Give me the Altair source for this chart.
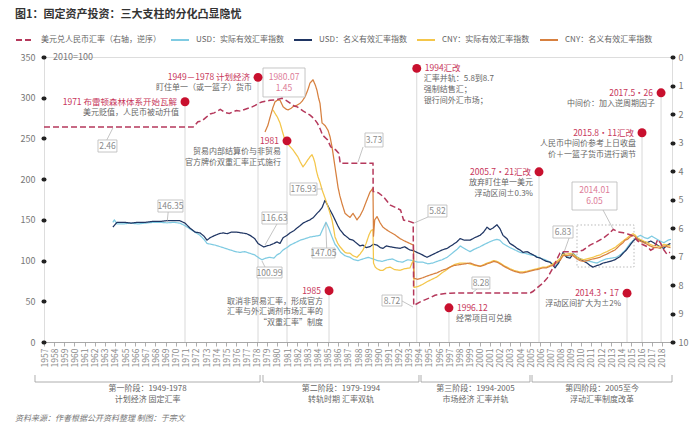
import altair as alt
import pandas as pd

FONT = "Noto Sans CJK SC"
DOT_RED = "#c8102e"
RED_TEXT = "#c7365a"
PINK_TEXT = "#dd7c98"
GRAY_TEXT = "#666666"
BOX_TEXT = "#8a8a8a"

# ---------------- series names (legend order) ----------------
RATE = "美元兑人民币汇率（右轴，逆序）"
USD_REAL = "USD：实际有效汇率指数"
USD_NOM = "USD：名义有效汇率指数"
CNY_REAL = "CNY：实际有效汇率指数"
CNY_NOM = "CNY：名义有效汇率指数"
SERIES = [RATE, USD_REAL, USD_NOM, CNY_REAL, CNY_NOM]
COLORS = ["#b5395c", "#7fcbe2", "#1f3563", "#f4c64a", "#d7803f"]
DASHES = [[6, 3], [1, 0], [1, 0], [1, 0], [1, 0]]

# ---------------- USD real effective exchange rate index (2010=100) ----------------
usd_real_year = [1963.8, 1963.95, 1964.2, 1964.8, 1965.5, 1966.3, 1967.0, 1967.8, 1968.5, 1969.15,
                 1969.8, 1970.4, 1970.9, 1971.4, 1971.9, 1972.4, 1972.8, 1973.1, 1973.5, 1973.9,
                 1974.4, 1974.9, 1975.4, 1975.9, 1976.35, 1976.8, 1977.3, 1977.8, 1978.13, 1978.52,
                 1978.9, 1979.3, 1979.7, 1980.0, 1980.3, 1980.6, 1981.0, 1981.3, 1981.8, 1982.3,
                 1982.8, 1983.3, 1983.8, 1984.25, 1984.5, 1984.84, 1985.1, 1985.4, 1985.73, 1985.93,
                 1986.3, 1986.7, 1987.21, 1987.6, 1988.0, 1988.5, 1989.0, 1989.5, 1989.9, 1990.4,
                 1990.9, 1991.4, 1991.9, 1992.4, 1992.9, 1993.4, 1993.9, 1994.4, 1994.9, 1995.4,
                 1995.8, 1996.3, 1996.8, 1997.3, 1997.8, 1998.1, 1998.6, 1999.06, 1999.5, 2000.05,
                 2000.5, 2001.0, 2001.4, 2001.72, 2002.0, 2002.31, 2002.7, 2003.0, 2003.5, 2004.0,
                 2004.5, 2005.0, 2005.5, 2006.0, 2006.5, 2007.0, 2007.45, 2007.8, 2008.24, 2008.6,
                 2008.93, 2009.23, 2009.6, 2009.92, 2010.3, 2010.61, 2011.2, 2011.6, 2011.9, 2012.5,
                 2013.0, 2013.5, 2014.0, 2014.4, 2014.86, 2015.2, 2015.55, 2015.9, 2016.3, 2016.6,
                 2017.0, 2017.4, 2017.8, 2018.2, 2018.6, 2018.9]
usd_real_val = [147, 150, 145, 145, 146, 145, 146, 147, 147, 146.35,
                147, 146, 143, 139, 135, 131, 126, 121, 120, 119,
                117, 115, 113, 111, 110, 111, 109, 107, 104, 100.99,
                103, 104, 103, 107, 109, 113, 116, 119, 122, 125,
                127, 129, 130, 131, 138, 147.05, 140, 130, 120, 117,
                110, 106, 104, 101, 100, 102, 104, 102, 100, 99,
                101, 102, 99, 98, 101, 100, 98, 98, 96, 97,
                99, 101, 104, 109, 114, 118, 114, 111, 114, 117,
                120, 123, 125, 126, 125, 121, 118, 116, 113, 110,
                109, 107, 106, 103, 101, 98, 93, 97, 108, 105,
                106, 109, 105, 102, 101, 100, 98, 97, 99, 102,
                103, 104, 108, 113, 121, 125, 129, 131, 128, 127,
                130, 127, 124, 122, 125, 126]

# ---------------- USD nominal effective exchange rate index ----------------
usd_nom_year = [1963.8, 1964.2, 1964.9, 1965.6, 1966.3, 1967.0, 1967.7, 1968.4, 1969.1, 1969.8,
                1970.4, 1970.92, 1971.4, 1971.91, 1972.4, 1972.8, 1973.09, 1973.39, 1973.88, 1974.3,
                1974.67, 1975.1, 1975.5, 1976.0, 1976.5, 1977.0, 1977.34, 1977.8, 1978.13, 1978.7,
                1979.0, 1979.32, 1979.7, 1980.0, 1980.3, 1980.6, 1981.0, 1981.29, 1981.7, 1981.98,
                1982.3, 1982.57, 1982.9, 1983.26, 1983.6, 1983.95, 1984.2, 1984.45, 1984.74, 1985.0,
                1985.24, 1985.5, 1985.73, 1986.0, 1986.22, 1986.6, 1986.91, 1987.2, 1987.51, 1987.9,
                1988.2, 1988.49, 1988.8, 1989.18, 1989.5, 1989.88, 1990.2, 1990.47, 1990.8, 1991.16,
                1991.6, 1992.15, 1992.6, 1993.13, 1993.5, 1993.83, 1994.2, 1994.5, 1994.81, 1995.3,
                1995.8, 1996.3, 1996.79, 1997.3, 1997.77, 1998.07, 1998.5, 1999.06, 1999.5, 2000.05,
                2000.4, 2000.74, 2001.03, 2001.33, 2001.72, 2002.02, 2002.31, 2002.7, 2003.0, 2003.4,
                2003.7, 2004.0, 2004.3, 2004.7, 2004.98, 2005.3, 2005.67, 2006.0, 2006.27, 2006.6,
                2006.96, 2007.2, 2007.45, 2007.8, 2008.24, 2008.6, 2008.93, 2009.23, 2009.6, 2009.92,
                2010.3, 2010.61, 2010.9, 2011.2, 2011.6, 2011.89, 2012.2, 2012.58, 2012.9, 2013.37,
                2013.87, 2014.17, 2014.5, 2014.86, 2015.16, 2015.55, 2015.85, 2016.2, 2016.54, 2016.9,
                2017.3, 2017.82, 2018.2, 2018.51, 2018.85]
usd_nom_val = [141, 147, 147, 146, 147, 147, 148, 148, 149, 149,
               149, 146, 140, 135, 134, 130, 125, 128, 131, 133,
               134, 133, 135, 135, 134, 133, 131, 127, 121, 116.63,
               118, 119, 121, 123, 121, 128, 131, 134, 137, 140,
               143, 146, 148, 150, 153, 158, 161, 165, 174, 168,
               162, 156, 150, 143, 138, 132, 129, 126, 125, 121,
               118, 119, 116, 117, 120, 119, 116, 115, 118, 117,
               116, 115, 117, 113, 112, 110, 108, 106, 104, 107,
               110, 113, 115, 119, 123, 127, 125, 125, 128, 131,
               135, 141, 138, 140, 144, 139, 131, 127, 121, 118,
               115, 113, 110, 111, 109, 107, 104, 103, 101, 99,
               98, 95, 91, 97, 110, 104, 103, 108, 104, 102,
               99, 97, 94, 92, 94, 95, 97, 98, 99, 101,
               105, 109, 113, 119, 124, 128, 125, 123, 122, 124,
               121, 117, 115, 119, 121]

# ---------------- CNY nominal effective exchange rate index ----------------
cny_nom_year = [1978.82, 1979.1, 1979.32, 1979.6, 1979.81, 1980.05, 1980.3, 1980.6, 1980.9, 1981.09,
                1981.4, 1981.58, 1982.0, 1982.27, 1982.5, 1982.77, 1983.06, 1983.26, 1983.56, 1983.8,
                1983.95, 1984.1, 1984.25, 1984.4, 1984.45, 1984.74, 1985.04, 1985.24, 1985.43, 1985.6,
                1985.73, 1986.03, 1986.2, 1986.42, 1986.72, 1987.0, 1987.21, 1987.51, 1987.9, 1988.2,
                1988.49, 1988.8, 1989.18, 1989.48, 1989.53, 1989.65, 1989.88, 1990.2, 1990.47, 1990.8,
                1991.16, 1991.6, 1992.15, 1992.6, 1993.13, 1993.48, 1993.53, 1993.9, 1994.42, 1994.81,
                1995.3, 1995.8, 1996.3, 1996.79, 1997.08, 1997.5, 1998.07, 1998.56, 1999.06, 1999.5,
                2000.05, 2000.4, 2000.74, 2001.03, 2001.4, 2001.72, 2002.02, 2002.4, 2002.7, 2003.0,
                2003.4, 2003.7, 2003.99, 2004.29, 2004.69, 2004.98, 2005.3, 2005.67, 2005.97, 2006.27,
                2006.6, 2006.96, 2007.25, 2007.45, 2007.94, 2008.24, 2008.6, 2008.93, 2009.23, 2009.62,
                2009.92, 2010.3, 2010.61, 2010.9, 2011.2, 2011.6, 2011.89, 2012.19, 2012.58, 2012.88,
                2013.37, 2013.87, 2014.17, 2014.36, 2014.6, 2014.86, 2015.16, 2015.4, 2015.55, 2015.85,
                2016.2, 2016.54, 2016.83, 2017.2, 2017.5, 2017.82, 2018.2, 2018.51, 2018.85]
cny_nom_val = [258, 266, 276, 288, 295, 297, 297, 289, 286, 285,
               287, 289, 291, 293, 296, 301, 310, 318, 322, 315,
               309, 300, 293, 275, 269, 266, 260, 252, 240, 226,
               215, 190, 180, 170, 158, 155, 153, 158, 150, 155,
               162, 172, 184, 189, 130, 150, 154, 146, 141, 138,
               135, 132, 127, 124, 121, 119, 78, 77, 79, 81,
               83, 85, 88, 90, 92, 94, 95, 96, 97, 95,
               93, 94, 96, 97, 99, 98, 96, 93, 91, 89,
               87, 86, 85, 85, 86, 87, 88, 89, 90, 91,
               91, 93, 94, 96, 100, 106, 106, 107, 106, 102,
               100, 99, 100, 101, 102, 103, 104, 106, 108, 110,
               113, 119, 122, 125, 126, 129, 131, 129, 126, 124,
               122, 120, 118, 116, 116, 115, 118, 117, 116]

# ---------------- CNY real effective exchange rate index ----------------
cny_real_year = [1979.61, 1979.8, 1980.05, 1980.3, 1980.55, 1980.79, 1981.0, 1981.29, 1981.58, 1981.8,
                 1982.08, 1982.3, 1982.57, 1982.8, 1983.06, 1983.3, 1983.46, 1983.6, 1983.75, 1983.9,
                 1984.05, 1984.25, 1984.45, 1984.74, 1985.04, 1985.24, 1985.43, 1985.6, 1985.73, 1986.0,
                 1986.22, 1986.5, 1986.72, 1987.0, 1987.21, 1987.5, 1987.9, 1988.2, 1988.49, 1988.8,
                 1989.1, 1989.3, 1989.48, 1989.53, 1989.7, 1989.88, 1990.2, 1990.47, 1990.8, 1991.16,
                 1991.6, 1992.15, 1992.6, 1993.13, 1993.3, 1993.48, 1993.53, 1993.9, 1994.42, 1994.81,
                 1995.3, 1995.8, 1996.3, 1996.79, 1997.08, 1997.5, 1998.07, 1998.56, 1999.06, 1999.5,
                 2000.05, 2000.4, 2000.74, 2001.03, 2001.4, 2001.72, 2002.02, 2002.4, 2002.7, 2003.0,
                 2003.4, 2003.7, 2003.99, 2004.29, 2004.69, 2004.98, 2005.3, 2005.67, 2005.97, 2006.27,
                 2006.6, 2006.96, 2007.25, 2007.45, 2007.94, 2008.24, 2008.6, 2008.93, 2009.23, 2009.62,
                 2009.92, 2010.3, 2010.61, 2010.9, 2011.2, 2011.6, 2011.89, 2012.19, 2012.58, 2012.88,
                 2013.37, 2013.87, 2014.17, 2014.36, 2014.6, 2014.86, 2015.16, 2015.4, 2015.55, 2015.85,
                 2016.2, 2016.54, 2016.83, 2017.2, 2017.5, 2017.82, 2018.2, 2018.51, 2018.85]
cny_real_val = [285, 281, 276, 269, 258, 248, 244, 240, 236, 232,
                227, 221, 215, 219, 224, 228, 230, 226, 220, 210,
                203, 196, 187, 176.93, 166, 158, 150, 139, 129, 121,
                117, 113, 110, 109, 109, 106, 104, 108, 113, 121,
                132, 137, 138, 97, 92, 90, 88, 88, 91, 92,
                89, 88, 90, 91, 96, 101, 67, 68, 71, 74,
                77, 80, 85, 89, 92, 95, 97, 97, 96, 94,
                93, 95, 97, 98, 100, 99, 97, 94, 92, 90,
                88, 87, 86, 86, 87, 88, 89, 90, 91, 92,
                92, 94, 96, 98, 102, 108, 108, 109, 108, 104,
                102, 101, 102, 103, 104, 106, 107, 109, 111, 113,
                116, 121, 124, 126, 128, 131, 133, 131, 128, 126,
                124, 122, 120, 118, 118, 117, 120, 119, 118]

# ---------------- USD/CNY (right axis, reversed) ----------------
rate_year = [1957.0, 1971.72, 1971.9, 1972.2, 1972.6, 1973.0, 1973.4, 1973.8, 1974.1, 1974.4,
             1974.9, 1975.3, 1975.6, 1976.0, 1976.4, 1976.8, 1977.15, 1977.5, 1977.85, 1978.2,
             1978.5, 1978.9, 1979.3, 1979.9, 1980.5, 1980.9, 1981.3, 1981.7, 1982.0, 1982.3,
             1982.6, 1982.9, 1983.3, 1983.7, 1984.0, 1984.3, 1984.5, 1985.0, 1985.3, 1985.8,
             1986.1, 1986.25, 1989.48, 1989.5, 1990.0, 1990.5, 1991.2, 1991.7, 1992.2, 1992.5,
             1993.0, 1993.45, 1993.5, 1994.1, 1994.6, 1995.1, 1995.6, 1996.1, 1996.6, 1997.1,
             1998.0, 2005.0, 2005.3, 2005.67, 2006.2, 2006.7, 2007.25, 2007.6, 2007.94, 2008.24,
             2009.7, 2010.2, 2010.9, 2011.6, 2012.2, 2012.7, 2013.2, 2013.7, 2014.2, 2014.7,
             2015.2, 2015.6, 2016.1, 2016.6, 2016.9, 2017.2, 2017.6, 2017.9, 2018.1, 2018.5,
             2018.8]
rate_val = [2.46, 2.46, 2.40, 2.27, 2.24, 2.12, 2.00, 1.96, 1.90, 1.84,
            1.95, 1.98, 1.93, 1.88, 1.90, 1.84, 1.80, 1.76, 1.70, 1.62,
            1.58, 1.55, 1.52, 1.50, 1.45, 1.52, 1.62, 1.72, 1.75, 1.82,
            1.90, 1.96, 2.05, 2.18, 2.33, 2.55, 2.74, 2.91, 3.15, 3.26,
            3.38, 3.73, 3.73, 4.72, 4.76, 4.90, 5.20, 5.28, 5.37, 5.72,
            5.76, 5.82, 8.72, 8.60, 8.52, 8.45, 8.36, 8.33, 8.30, 8.29,
            8.28, 8.28, 8.22, 8.10, 7.95, 7.75, 7.40, 7.12, 6.88, 6.83,
            6.83, 6.78, 6.60, 6.48, 6.36, 6.22, 6.05, 6.14, 6.17, 6.22,
            6.28, 6.45, 6.58, 6.66, 6.78, 6.72, 6.40, 6.55, 6.72, 6.92,
            6.85]


def long_table(name, years, vals, col="value"):
    return pd.DataFrame({"year": years, col: vals, "series": name, "i": range(len(years))})


idx_df = pd.concat([
    long_table(USD_REAL, usd_real_year, usd_real_val),
    long_table(USD_NOM, usd_nom_year, usd_nom_val),
    long_table(CNY_REAL, cny_real_year, cny_real_val),
    long_table(CNY_NOM, cny_nom_year, cny_nom_val),
], ignore_index=True)
rate_df = long_table(RATE, rate_year, rate_val, col="rate")

# ---------------- policy events: year, top of guide (left-axis units), texts ----------------
ev_year = [1970.92, 1978.13, 1980.99, 1985.14, 1993.8, 1996.98, 2005.87, 2014.56, 2016.04, 2017.92]
ev_top = [295, 325, 247, 63, 336, 42, 209, 60, 257, 306]
ev_head = ["1971  布雷顿森林体系开始瓦解", "1949－1978  计划经济", "1981", "1985", "1994汇改",
           "1996.12", "2005.7·21汇改", "2014.3·17", "2015.8·11汇改", "2017.5·26"]
ev_body = ["美元贬值，人民币被动升值",
           "盯住单一（或一篮子）货币",
           "贸易内部结算价与非贸易\n官方牌价双重汇率正式施行",
           "取消非贸易汇率，形成官方\n汇率与外汇调剂市场汇率的\n“双重汇率”制度",
           "汇率并轨：5.8到8.7\n强制结售汇；\n银行间外汇市场；",
           "经常项目可兑换",
           "放弃盯住单一美元\n浮动区间±0.3%",
           "浮动区间扩大为±2%",
           "人民币中间价参考上日收盘\n价＋一篮子货币进行调节",
           "中间价：加入逆周期因子"]
ev_side = ["right", "right", "right", "right", "left", "left", "right", "right", "right", "right"]
events = pd.DataFrame({"year": ev_year, "top": ev_top, "head": ev_head, "body": ev_body, "side": ev_side})

# ---------------- value call-out boxes (left-axis units) ----------------
box_label = ["2.46", "1980.07\n1.45", "146.35", "116.63", "176.93", "147.05", "100.99",
             "3.73", "5.82", "8.72", "8.28", "6.83", "2014.01\n6.05"]
box_tone = ["g", "p", "g", "g", "g", "g", "g", "g", "g", "g", "g", "g", "p"]
box_x0 = [1962.33, 1978.62, 1968.25, 1978.52, 1981.29, 1983.46, 1978.03, 1988.69, 1994.91, 1990.37, 1999.25, 2007.25, 2009.13]
box_x1 = [1964.20, 1982.77, 1970.72, 1980.99, 1983.95, 1985.73, 1980.50, 1990.47, 1996.78, 1992.34, 2001.02, 2009.23, 2013.57]
box_y0 = [233.3, 300.9, 159.6, 144.9, 180.5, 103.2, 78.6, 239.5, 153.5, 44.2, 65.1, 127.7, 162.1]
box_y1 = [248.1, 336.5, 174.4, 159.6, 195.3, 115.4, 92.1, 256.7, 168.2, 57.7, 79.8, 142.5, 196.5]
boxes = pd.DataFrame({"x0": box_x0, "x1": box_x1, "y0": box_y0, "y1": box_y1,
                      "label": box_label, "tone": box_tone})
boxes["xm"] = (boxes.x0 + boxes.x1) / 2
# multi-line labels are anchored on their first line, so lift them by half a line
boxes["ym"] = (boxes.y0 + boxes.y1) / 2 + 6.8 * boxes.label.str.count("\n")

lead_x = [1963.2, 1969.26, 1980.0, 1983.95, 1984.91, 1978.82, 1988.5, 1994.91, 1992.34, 1999.75, 2008.84, 2012.19]
lead_y = [248.1, 159.6, 144.9, 187.9, 115.4, 92.1, 239.5, 153.5, 50.4, 65.1, 127.7, 162.1]
lead_x2 = [1963.8, 1969.16, 1978.82, 1984.5, 1984.81, 1978.52, 1988.0, 1993.53, 1993.43, 1999.25, 2008.35, 2013.18]
lead_y2 = [262.8, 147.4, 119.1, 187.9, 146.1, 99.5, 221.0, 146.1, 43.0, 60.2, 110.5, 138.8]
leaders = pd.DataFrame({"x": lead_x, "y": lead_y, "x2": lead_x2, "y2": lead_y2})

focus = pd.DataFrame({"x0": [2009.62], "x1": [2015.25], "y0": [92.1], "y1": [143.7]})

# ---------------- regime brackets under the axis ----------------
ph_start = [1956.11, 1978.62, 1994.22, 2005.18]
ph_end = [1978.33, 1994.02, 2004.98, 2019.0]
ph_text = ["第一阶段：1949-1978\n计划经济 固定汇率", "第二阶段：1979-1994\n转轨时期 汇率双轨",
           "第三阶段：1994-2005\n市场经济 汇率并轨", "第四阶段：2005至今\n浮动汇率制度改革"]
phases = pd.DataFrame({"x0": ph_start, "x1": ph_end, "label": ph_text})
phases["xm"] = (phases.x0 + phases.x1) / 2
ends = pd.DataFrame({"xe": ph_start + ph_end})

TITLE = "图1：固定资产投资：三大支柱的分化凸显隐忧"
SOURCE = "资料来源：作者根据公开资料整理      制图：于宗文"

# ---------------- scales & axes ----------------
x_scale = alt.Scale(domain=[1957, 2019], nice=False, zero=False)
y_scale = alt.Scale(domain=[0, 350], nice=False, zero=False)
r_scale = alt.Scale(domain=[0, 10], nice=False, zero=False, reverse=True)

x_axis = alt.Axis(values=list(range(1957, 2019)), format="d", labelAngle=270, labelFontSize=8.5,
                  labelColor="#8a8a8a", labelFont=FONT, labelPadding=2, tickSize=4, tickColor="#9a9a9a",
                  tickWidth=0.8, domainColor="#9a9a9a", domainWidth=0.8, grid=False, title=None,
                  labelOverlap=False, labelFlush=False)
dot_axis = dict(domain=False, grid=False, title=None, tickSize=1, tickWidth=4, tickCap="round",
                tickColor="#222222", labelFontSize=9, labelColor="#777777", labelFont=FONT)
y_axis = alt.Axis(values=list(range(0, 351, 50)), orient="left", labelPadding=8, **dot_axis)
r_axis = alt.Axis(values=list(range(0, 11)), orient="right", labelPadding=5, **dot_axis)

legend = alt.Legend(orient="none", legendX=-29, legendY=-27, direction="horizontal", columns=5,
                    title=None, symbolType="stroke", symbolSize=324, symbolStrokeWidth=2,
                    labelFontSize=8, labelColor="#666666", labelFont=FONT, columnPadding=6,
                    labelOffset=6, padding=0)
color_enc = alt.Color("series:N", scale=alt.Scale(domain=SERIES, range=COLORS), legend=legend)
dash_enc = alt.StrokeDash("series:N", scale=alt.Scale(domain=SERIES, range=DASHES), legend=legend)


def X(f):
    return alt.X(f, type="quantitative", scale=x_scale, axis=x_axis)


def Y(f):
    return alt.Y(f, type="quantitative", scale=y_scale, axis=y_axis)


# ---------------- guides and index lines ----------------
guides = alt.Chart(events).mark_rule(color="#cfcfcf", strokeWidth=0.8).encode(
    x=X("year"), y=Y("top"), y2=alt.datum(0))
focus_rect = alt.Chart(focus).mark_rect(fillOpacity=0, stroke="#a8a8a8", strokeWidth=0.8,
                                         strokeDash=[1.5, 2]).encode(
    x=X("x0"), x2="x1", y=Y("y0"), y2="y1")
idx_lines = alt.Chart(idx_df).mark_line(strokeWidth=1.25, strokeJoin="round").encode(
    x=X("year"), y=Y("value"), color=color_enc, strokeDash=dash_enc, order="i:Q")

# ---------------- call-outs ----------------
lead = alt.Chart(leaders).mark_rule(color="#aaaaaa", strokeWidth=0.7).encode(
    x=X("x"), y=Y("y"), x2="x2", y2="y2")
box = alt.Chart(boxes).mark_rect(fill="white", stroke="#b8b8b8", strokeWidth=0.8).encode(
    x=X("x0"), x2="x1", y=Y("y0"), y2="y1")


def box_txt(tone, col):
    return alt.Chart(boxes[boxes.tone == tone]).mark_text(
        font=FONT, fontSize=8.5, color=col, lineBreak="\n", lineHeight=11, baseline="middle").encode(
        x=X("xm"), y=Y("ym"), text="label:N")


dots = alt.Chart(events).mark_circle(size=80, color=DOT_RED, opacity=1).encode(x=X("year"), y=Y("top"))

ev_r = events[events.side == "right"]
ev_l = events[events.side == "left"]
head_r = alt.Chart(ev_r).mark_text(font=FONT, fontSize=8.5, color=RED_TEXT, align="right",
                                   baseline="middle", dx=-8).encode(x=X("year"), y=Y("top"), text="head:N")
body_r = alt.Chart(ev_r).mark_text(font=FONT, fontSize=8, color=GRAY_TEXT, align="right", baseline="top",
                                   dx=-6, dy=7, lineBreak="\n", lineHeight=10.8).encode(
    x=X("year"), y=Y("top"), text="body:N")
head_l = alt.Chart(ev_l).mark_text(font=FONT, fontSize=8.5, color=RED_TEXT, align="left",
                                   baseline="middle", dx=8).encode(x=X("year"), y=Y("top"), text="head:N")
body_l = alt.Chart(ev_l).mark_text(font=FONT, fontSize=8, color=GRAY_TEXT, align="left", baseline="top",
                                   dx=7, dy=7, lineBreak="\n", lineHeight=10.8).encode(
    x=X("year"), y=Y("top"), text="body:N")

# ---------------- brackets, title, notes ----------------
br_h = alt.Chart(phases).mark_rule(color="#9a9a9a", strokeWidth=0.8).encode(
    x=X("x0"), x2="x1", y=alt.value(325))
br_v = alt.Chart(ends).mark_rule(color="#9a9a9a", strokeWidth=0.8).encode(
    x=X("xe"), y=alt.value(318), y2=alt.value(325))
ph_txt = alt.Chart(phases).mark_text(font=FONT, fontSize=8, color=GRAY_TEXT, baseline="top",
                                     lineBreak="\n", lineHeight=11).encode(
    x=X("xm"), y=alt.value(328), text="label:N")

title = alt.Chart(pd.DataFrame({"t": [TITLE]})).mark_text(
    font=FONT, fontSize=11, fontWeight="bold", color="#333333", align="left", baseline="middle").encode(
    x=alt.value(-29), y=alt.value(-42), text="t:N")
base_note = alt.Chart(pd.DataFrame({"t": ["2010=100"]})).mark_text(
    font=FONT, fontSize=9, color="#777777", align="left", baseline="middle").encode(
    x=alt.value(9), y=alt.value(0), text="t:N")
source = alt.Chart(pd.DataFrame({"t": [SOURCE]})).mark_text(
    font=FONT, fontSize=8, color="#777777", align="left", baseline="middle", fontStyle="italic").encode(
    x=alt.value(-29), y=alt.value(362), text="t:N")

left_group = alt.layer(guides, focus_rect, idx_lines, lead, box, box_txt("g", BOX_TEXT),
                       box_txt("p", PINK_TEXT), dots, head_r, body_r, head_l, body_l,
                       br_h, br_v, ph_txt, title, base_note, source)

# ---------------- exchange rate on the reversed right axis ----------------
rate_line = alt.Chart(rate_df).mark_line(strokeWidth=1.5).encode(
    x=X("year"), y=alt.Y("rate:Q", scale=r_scale, axis=r_axis),
    color=color_enc, strokeDash=dash_enc, order="i:Q")

chart = alt.layer(left_group, rate_line).resolve_scale(y="independent").properties(
    width=628, height=285,
    autosize=alt.AutoSizeParams(type="none"),
    padding={"left": 44, "top": 57, "right": 25, "bottom": 89},
    background="white",
).configure_view(stroke=None).configure(font=FONT)

chart.save("out.html", embed_options={"renderer": "svg", "actions": False})
